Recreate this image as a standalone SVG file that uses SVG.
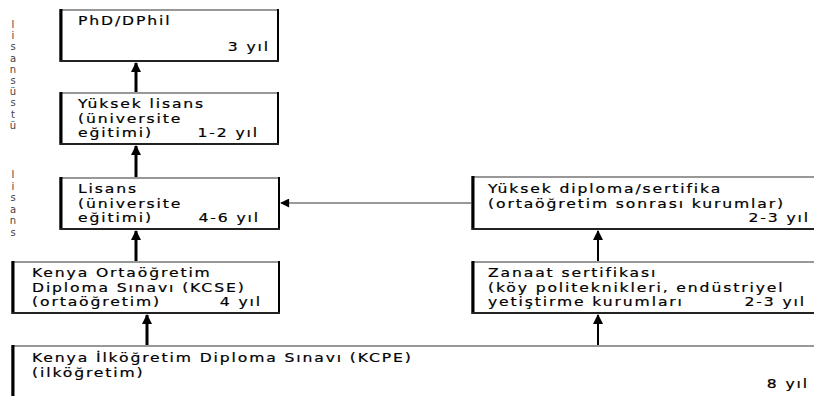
<svg xmlns="http://www.w3.org/2000/svg" width="814" height="396" viewBox="0 0 814 396">
<defs>
<style>
.t{font-family:"DejaVu Sans","Verdana",sans-serif;font-size:12.5px;letter-spacing:1.5px;fill:#000;stroke:#000;stroke-width:0.2}
.e{text-anchor:end}
.side{font-family:"DejaVu Sans",sans-serif;font-size:10px;fill:#444;text-anchor:middle}
.box{fill:#fff;stroke:#777;stroke-width:1.5}
.lft{stroke:#000;stroke-width:3}
.rgt{stroke:#000;stroke-width:2}
.bot{stroke:#222;stroke-width:2}
.thick{stroke:#000;stroke-width:3;fill:none}
.thin{stroke:#000;stroke-width:2;fill:none}
.hair{stroke:#777;stroke-width:1.5;fill:none}
</style>
<marker id="ah" viewBox="0 0 10 10" refX="9" refY="5" markerWidth="3.6" markerHeight="3.4" orient="auto" markerUnits="strokeWidth">
<path d="M0,0 L10,5 L0,10 z" fill="#000"/>
</marker>
<marker id="ah2" viewBox="0 0 10 10" refX="9" refY="5" markerWidth="5" markerHeight="5" orient="auto" markerUnits="strokeWidth">
<path d="M0,0 L10,5 L0,10 z" fill="#000"/>
</marker>
<marker id="ah3" viewBox="0 0 10 10" refX="9" refY="5" markerWidth="8" markerHeight="6" orient="auto" markerUnits="strokeWidth">
<path d="M0,0 L10,5 L0,10 z" fill="#000"/>
</marker>
</defs>
<rect width="814" height="396" fill="#fff"/>

<g id="side-labels">
<text class="side" x="13" y="28">l</text>
<text class="side" x="13" y="39">i</text>
<text class="side" x="13" y="50">s</text>
<text class="side" x="13" y="62">a</text>
<text class="side" x="13" y="73">n</text>
<text class="side" x="13" y="84">s</text>
<text class="side" x="13" y="95">ü</text>
<text class="side" x="13" y="106">s</text>
<text class="side" x="13" y="118">t</text>
<text class="side" x="13" y="129">ü</text>
<text class="side" x="13" y="178">l</text>
<text class="side" x="13" y="190">i</text>
<text class="side" x="13" y="201">s</text>
<text class="side" x="13" y="213">a</text>
<text class="side" x="13" y="224">n</text>
<text class="side" x="13" y="236">s</text>
</g>

<g id="phd">
<rect class="box" x="60" y="10" width="218" height="51"/>
<line class="lft" x1="61" y1="9" x2="61" y2="62"/>
<line class="rgt" x1="278" y1="9" x2="278" y2="62"/>
<line class="bot" x1="60" y1="61" x2="279" y2="61"/>
<text class="t" transform="translate(78,25) scale(1.25,1)">PhD/DPhil</text>
<text class="t e" transform="translate(270,51) scale(1.25,1)">3 yıl</text>
</g>

<g id="yuksek-lisans">
<rect class="box" x="60" y="93" width="218" height="51"/>
<line class="lft" x1="61" y1="92" x2="61" y2="145"/>
<line class="rgt" x1="278" y1="92" x2="278" y2="145"/>
<line class="bot" x1="60" y1="144" x2="279" y2="144"/>
<text class="t" transform="translate(78,108) scale(1.25,1)">Yüksek lisans</text>
<text class="t" transform="translate(78,122.5) scale(1.25,1)">(üniversite</text>
<text class="t" transform="translate(78,137) scale(1.25,1)">eğitimi)</text>
<text class="t e" transform="translate(259,137) scale(1.25,1)">1-2 yıl</text>
</g>

<g id="lisans">
<rect class="box" x="60" y="178" width="219" height="51"/>
<line class="lft" x1="61" y1="177" x2="61" y2="230"/>
<line class="rgt" x1="279" y1="177" x2="279" y2="230"/>
<line class="bot" x1="60" y1="229" x2="280" y2="229"/>
<text class="t" transform="translate(78,193) scale(1.25,1)">Lisans</text>
<text class="t" transform="translate(78,207.5) scale(1.25,1)">(üniversite</text>
<text class="t" transform="translate(78,222) scale(1.25,1)">eğitimi)</text>
<text class="t e" transform="translate(260,222) scale(1.25,1)">4-6 yıl</text>
</g>

<g id="kcse">
<rect class="box" x="12" y="262" width="267" height="51"/>
<line class="lft" x1="13" y1="261" x2="13" y2="314"/>
<line class="rgt" x1="279" y1="261" x2="279" y2="314"/>
<line class="bot" x1="12" y1="313" x2="280" y2="313"/>
<text class="t" transform="translate(32,277) scale(1.25,1)">Kenya Ortaöğretim</text>
<text class="t" transform="translate(32,291.5) scale(1.25,1)">Diploma Sınavı (KCSE)</text>
<text class="t" transform="translate(32,306) scale(1.25,1)">(ortaöğretim)</text>
<text class="t e" transform="translate(262,306) scale(1.25,1)">4 yıl</text>
</g>

<g id="kcpe">
<rect class="box" x="12" y="346" width="820" height="60"/>
<line class="lft" x1="13" y1="345" x2="13" y2="396"/>
<text class="t" transform="translate(32,362) scale(1.25,1)">Kenya İlköğretim Diploma Sınavı (KCPE)</text>
<text class="t" transform="translate(32,376.5) scale(1.25,1)">(ilköğretim)</text>
<text class="t e" transform="translate(809,388) scale(1.25,1)">8 yıl</text>
</g>

<g id="yuksek-diploma">
<rect class="box" x="472" y="177" width="360" height="52"/>
<line class="lft" x1="473" y1="176" x2="473" y2="230"/>
<line class="bot" x1="472" y1="229" x2="832" y2="229"/>
<text class="t" transform="translate(488,193) scale(1.25,1)">Yüksek diploma/sertifika</text>
<text class="t" transform="translate(488,207.5) scale(1.25,1)">(ortaöğretim sonrası kurumlar)</text>
<text class="t e" transform="translate(810,222) scale(1.25,1)">2-3 yıl</text>
</g>

<g id="zanaat">
<rect class="box" x="472" y="262" width="360" height="51"/>
<line class="lft" x1="473" y1="261" x2="473" y2="314"/>
<line class="bot" x1="472" y1="313" x2="832" y2="313"/>
<text class="t" transform="translate(488,277) scale(1.25,1)">Zanaat sertifikası</text>
<text class="t" transform="translate(488,291.5) scale(1.25,1)">(köy politeknikleri, endüstriyel</text>
<text class="t" transform="translate(488,306) scale(1.25,1)">yetiştirme kurumları</text>
<text class="t e" transform="translate(806,306) scale(1.25,1)">2-3 yıl</text>
</g>

<g id="connectors">
<line class="thick" x1="136" y1="92" x2="136" y2="63" marker-end="url(#ah)"/>
<line class="thick" x1="136" y1="177" x2="136" y2="146" marker-end="url(#ah)"/>
<line class="thick" x1="136" y1="261" x2="136" y2="231" marker-end="url(#ah)"/>
<line class="thick" x1="147" y1="345" x2="147" y2="315" marker-end="url(#ah)"/>
<line class="thin" x1="598" y1="261" x2="598" y2="231" marker-end="url(#ah2)"/>
<line class="thin" x1="598" y1="345" x2="598" y2="315" marker-end="url(#ah2)"/>
<line class="hair" x1="471" y1="203" x2="281" y2="203" marker-end="url(#ah3)"/>
</g>
</svg>
